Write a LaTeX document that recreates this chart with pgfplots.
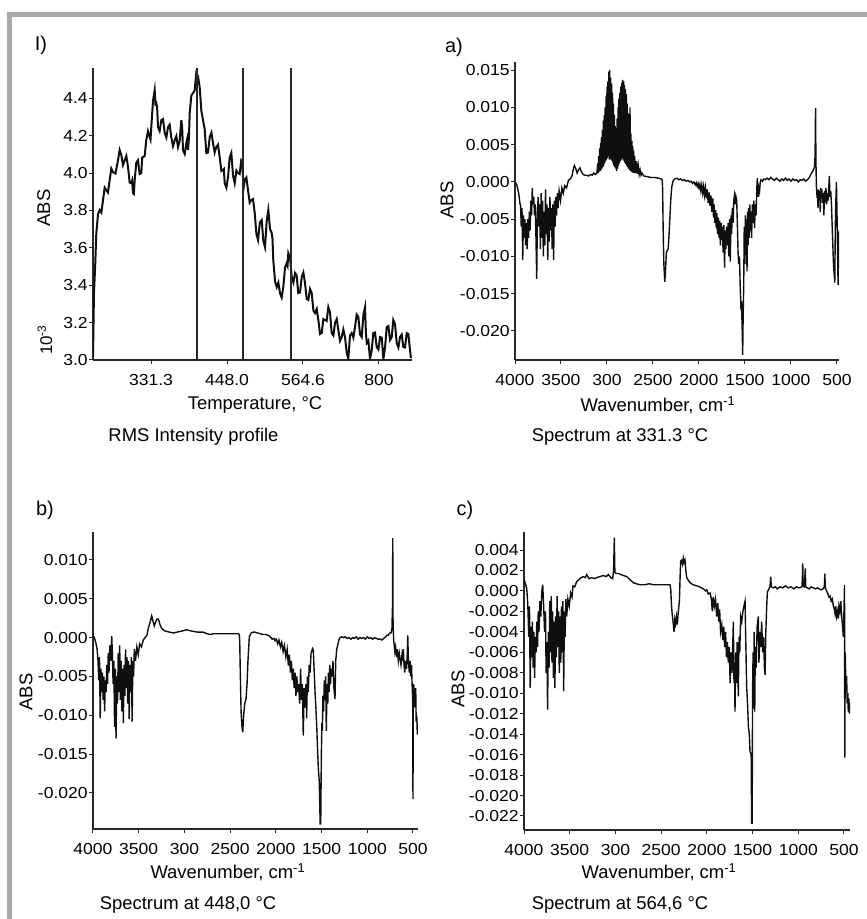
\documentclass[border=0pt]{standalone}
\usepackage{pgfplots}
\pgfplotsset{compat=1.18}
\usepackage{fontspec}
\setmainfont{Liberation Sans}
\definecolor{framegray}{RGB}{168,169,172}
\definecolor{axisc}{RGB}{40,40,40}
\definecolor{trace}{RGB}{15,15,15}
\newcommand\lab{\fontsize{18.5}{22}\selectfont}

\pgfplotsset{
  panel/.style={
    scale only axis,
    axis lines*=left,
    axis line style={axisc, line width=1.4bp},
    every tick/.style={axisc, line width=1bp},
    tick align=outside,
    major tick length=4bp,
    scaled x ticks=false, scaled y ticks=false,
    tick label style={font=\fontsize{16}{19}\selectfont, inner sep=1bp, xscale=1.1},
    xticklabel style={yshift=-9bp},
    label style={font=\lab},
    no markers,
  },
  spec/.style={panel, x dir=reverse, xmax=4000,
    xtick={4000,3500,3000,2500,2000,1500,1000,500},
    xticklabels={4000,3500,300,2500,2000,1500,1000,500},
    xlabel={Wavenumber, cm\textsuperscript{-1}}, ylabel={ABS}},
}

\begin{document}
\begin{tikzpicture}
\path[use as bounding box] (0,0) rectangle (867bp,919bp);
% grey frame
\fill[framegray] (7bp,902bp) rectangle (867bp,907bp);
\fill[framegray] (7bp,0bp) rectangle (12bp,907bp);

% I) RMS intensity profile
\begin{axis}[panel, at={(93bp,559bp)}, anchor=south west,
  width=319bp, height=292bp,
  xmin=242.2, xmax=732, ymin=3.0, ymax=4.562,
  xtick={331.3,448.0,564.6,681.2}, xticklabels={331.3,448.0,564.6,800},
  ytick={3.0,3.2,3.4,3.6,3.8,4.0,4.2,4.4},
  yticklabels={3.0,3.2,3.4,3.6,3.8,4.0,4.2,4.4},
  xlabel={Temperature, °C}, ylabel={ABS},
  xlabel style={at={(axis description cs:0.508,-0.154)}, anchor=center},
  ylabel style={at={(axis description cs:-0.154,0.521)}, anchor=center},
]
\addplot[trace, line width=2bp] coordinates {
(242.2,3.016) (243.7,3.358) (245.5,3.50) (247.3,3.679) (249.9,3.780) (252.5,3.802)
(255.0,3.789) (257.6,3.855) (260.1,3.922) (262.6,3.909) (265.2,3.896) (267.8,3.962)
(270.3,4.024) (272.9,4.005) (276.7,3.997) (280.6,4.069) (283.1,4.123) (285.7,4.096)
(288.3,4.043) (290.9,4.069) (293.4,4.091) (296.0,4.032) (298.5,3.949) (301.0,3.946)
(302.3,3.960) (303.6,3.893) (304.9,3.888) (306.2,3.962) (308.7,4.056) (311.3,4.069)
(313.8,3.995) (316.4,4.000) (317.7,4.083) (319.0,4.085) (321.5,4.091) (324.0,4.176)
(326.6,4.224) (329.3,4.192) (330.5,4.179) (331.7,4.246) (334.3,4.385) (336.9,4.444)
(338.1,4.369) (339.4,4.374) (340.7,4.350) (342.0,4.246) (344.5,4.225) (347.1,4.283)
(349.7,4.289) (352.3,4.214) (354.8,4.190) (357.4,4.246) (359.9,4.259) (362.4,4.192)
(365.0,4.144) (367.7,4.176) (370.2,4.198) (372.7,4.139) (375.2,4.171) (377.8,4.283)
(379.1,4.243) (380.4,4.123) (383.0,4.102) (385.5,4.160) (386.8,4.182) (388.1,4.123)
(389.4,4.182) (390.7,4.321) (393.2,4.415) (395.8,4.428) (398.3,4.442) (400.8,4.535)
(403.4,4.518) (406.0,4.460) (408.6,4.332) (411.1,4.283) (413.7,4.235) (416.2,4.107)
(418.8,4.110) (421.4,4.192) (424.0,4.216) (426.5,4.160) (429.0,4.110) (431.5,4.139)
(434.1,4.152) (436.7,4.085) (439.3,4.011) (441.8,4.016) (443.1,4.021) (444.4,3.946)
(447.0,3.922) (449.5,3.978) (452.1,4.083) (454.6,4.107) (457.2,3.987) (459.8,3.946)
(462.3,4.013) (464.8,4.000) (467.4,3.995) (469.9,4.069) (471.2,4.064) (472.5,3.978)
(473.8,3.930) (475.1,3.962) (477.7,3.976) (480.2,3.909) (482.8,3.842) (485.3,3.855)
(487.9,3.861) (490.5,3.786) (493.1,3.674) (495.6,3.642) (498.4,3.735) (501.2,3.748)
(503.8,3.636) (506.3,3.604) (508.9,3.743) (511.4,3.802) (514.0,3.701) (516.6,3.679)
(517.8,3.647) (519.0,3.534) (521.7,3.422) (524.3,3.390) (526.8,3.414) (529.3,3.358)
(531.9,3.334) (534.4,3.390) (537.0,3.494) (539.6,3.518) (540.9,3.505) (542.1,3.572)
(544.7,3.548) (547.3,3.444) (549.9,3.415) (552.4,3.465) (554.9,3.452) (557.4,3.358)
(560.1,3.361) (562.7,3.444) (565.2,3.468) (567.7,3.412) (570.3,3.327) (572.8,3.321)
(575.4,3.380) (578.0,3.358) (580.6,3.265) (583.1,3.251) (585.7,3.273) (588.2,3.214)
(590.8,3.139) (593.4,3.144) (595.9,3.219) (598.4,3.214) (601.0,3.209) (603.5,3.283)
(606.1,3.254) (608.7,3.144) (611.3,3.131) (613.8,3.198) (616.4,3.219) (618.9,3.160)
(621.5,3.102) (624.1,3.123) (626.6,3.163) (629.1,3.123) (631.7,3.040) (634.2,3.005)
(636.8,3.131) (639.4,3.144) (642.0,3.120) (644.5,3.176) (647.1,3.243) (649.6,3.230)
(652.2,3.137) (654.8,3.123) (657.4,3.243) (659.9,3.283) (661.2,3.147) (662.5,3.091)
(665.0,3.104) (667.5,3.005) (670.1,3.051) (672.6,3.144) (675.2,3.147) (677.8,3.069)
(680.4,3.056) (682.9,3.123) (685.5,3.120) (688.0,3.005) (690.6,3.067) (693.2,3.176)
(695.7,3.182) (698.2,3.107) (700.8,3.121) (703.3,3.214) (705.9,3.193) (708.5,3.091)
(711.1,3.067) (713.6,3.123) (716.2,3.136) (718.7,3.069) (721.3,3.067) (723.9,3.144)
(726.4,3.139) (728.9,3.053) (730.2,3.015) (731.5,3.016)
};
\addplot[axisc, line width=1.2bp] coordinates {(401.9,3.0) (401.9,4.562)};
\addplot[axisc, line width=1.2bp] coordinates {(472.5,3.0) (472.5,4.562)};
\addplot[axisc, line width=1.2bp] coordinates {(546.2,3.0) (546.2,4.562)};
\end{axis}
\node[rotate=90, font=\fontsize{17}{20}\selectfont] at (45bp,579bp) {10\textsuperscript{-3}};

% a) spectrum at 331.3 C
\begin{axis}[spec, at={(515bp,559bp)}, anchor=south west,
  width=324bp, height=298bp,
  xmin=478, ymin=-0.0239, ymax=0.0161,
  ytick={-0.020,-0.015,-0.010,-0.005,0,0.005,0.010,0.015},
  yticklabels={-0.020,-0.015,-0.010,-0.005,0.000,0.005,0.010,0.015},
  xlabel style={at={(axis description cs:0.441,-0.151)}, anchor=center},
  ylabel style={at={(axis description cs:-0.210,0.537)}, anchor=center},
]
\addplot[trace, line width=1.4bp] coordinates {
(4000,0.0000) (3980,-0.0004) (3960,-0.0015) (3945,-0.0030)
(3940,-0.0030) (3932,-0.0060) (3924,-0.0035) (3916,-0.0105) (3908,-0.0045) (3900,-0.0075)
(3892,-0.0050) (3884,-0.0085) (3876,-0.0055) (3868,-0.0090) (3860,-0.0050) (3852,-0.0075)
(3844,-0.0040) (3836,-0.0065) (3828,-0.0025) (3820,-0.0045) (3812,-0.0008) (3806,-0.0030)
(3796,-0.0020) (3788,-0.0045) (3780,-0.0030) (3772,-0.0075) (3764,-0.0130) (3756,-0.0040)
(3748,-0.0020) (3740,-0.0060) (3732,-0.0030) (3724,-0.0090) (3716,-0.0015) (3708,-0.0075)
(3700,-0.0025) (3692,-0.0100) (3684,-0.0040) (3676,-0.0085) (3668,-0.0010) (3660,-0.0070)
(3652,-0.0030) (3644,-0.0105) (3636,-0.0035) (3628,-0.0080) (3620,-0.0020) (3612,-0.0065)
(3604,-0.0035) (3596,-0.0090) (3588,-0.0030) (3580,-0.0105) (3572,-0.0025) (3564,-0.0060)
(3556,-0.0020) (3548,-0.0045) (3540,-0.0015) (3532,-0.0035) (3520,-0.0012) (3505,-0.0025)
(3490,-0.0008) (3475,-0.0015) (3460,-0.0005) (3440,-0.0008) (3420,0.0002) (3400,0.0004)
(3380,0.0008) (3370,0.0015) (3355,0.0022) (3340,0.0018) (3325,0.0012) (3310,0.0016)
(3295,0.0019) (3280,0.0014) (3260,0.0010) (3240,0.0009) (3220,0.0009) (3200,0.0008)
(3180,0.0010) (3160,0.0009) (3145,0.0012) (3130,0.0010) (3110,0.0012) (3100,0.0025)
(3095,0.0012) (3090,0.0035) (3085,0.0014) (3080,0.0045) (3075,0.0015) (3070,0.0052)
(3065,0.0016) (3060,0.0060) (3055,0.0018) (3050,0.0070) (3045,0.0020) (3040,0.0082)
(3035,0.0022) (3030,0.0090) (3025,0.0025) (3020,0.0100) (3015,0.0028) (3010,0.0115)
(3005,0.0030) (3000,0.0128) (2995,0.0032) (2990,0.0135) (2985,0.0035) (2980,0.0148)
(2975,0.0030) (2970,0.0150) (2965,0.0035) (2960,0.0140) (2955,0.0030) (2950,0.0132)
(2945,0.0028) (2940,0.0120) (2935,0.0025) (2930,0.0105) (2925,0.0022) (2920,0.0090)
(2915,0.0020) (2910,0.0075) (2905,0.0018) (2900,0.0060) (2895,0.0015) (2890,0.0085)
(2885,0.0018) (2880,0.0100) (2875,0.0022) (2870,0.0112) (2865,0.0025) (2860,0.0120)
(2855,0.0028) (2850,0.0128) (2845,0.0030) (2840,0.0133) (2835,0.0032) (2830,0.0137)
(2825,0.0030) (2820,0.0135) (2815,0.0028) (2810,0.0130) (2805,0.0026) (2800,0.0125)
(2795,0.0024) (2790,0.0118) (2785,0.0022) (2780,0.0105) (2775,0.0020) (2770,0.0092)
(2765,0.0018) (2760,0.0080) (2755,0.0016) (2750,0.0100) (2745,0.0015) (2740,0.0065)
(2735,0.0014) (2730,0.0055) (2725,0.0013) (2720,0.0048) (2715,0.0012) (2710,0.0042)
(2705,0.0012) (2700,0.0035) (2690,0.0012) (2680,0.0028) (2670,0.0011) (2660,0.0022)
(2650,0.0010) (2640,0.0016) (2630,0.0009) (2620,0.0012) (2600,0.0008) (2560,0.0007)
(2520,0.0006) (2480,0.0006) (2440,0.0005) (2410,0.0004) (2400,0.0003) (2395,-0.0010)
(2390,-0.0060) (2382,-0.0110) (2372,-0.0134) (2364,-0.0120) (2355,-0.0095) (2345,-0.0092)
(2335,-0.0090) (2325,-0.0070) (2315,-0.0045) (2305,-0.0020) (2295,-0.0006) (2280,0.0002)
(2262,0.0004) (2240,0.0005) (2220,0.0003) (2200,0.0004) (2180,0.0002) (2160,0.0003)
(2140,0.0001) (2120,0.0002) (2100,0.0000) (2085,0.0001) (2070,-0.0002) (2055,0.0000)
(2040,-0.0004) (2030,-0.0001) (2020,-0.0006) (2010,-0.0002) (2000,-0.0008) (1990,-0.0003)
(1980,-0.0012) (1970,-0.0004) (1960,-0.0015) (1950,-0.0006) (1940,-0.0018) (1930,-0.0008)
(1920,-0.0022) (1910,-0.0010) (1900,-0.0028) (1890,-0.0014) (1880,-0.0032) (1870,-0.0018)
(1860,-0.0040) (1850,-0.0022) (1842,-0.0048) (1835,-0.0030) (1828,-0.0055) (1820,-0.0038)
(1812,-0.0062) (1805,-0.0042) (1798,-0.0070) (1790,-0.0048) (1782,-0.0075) (1775,-0.0052)
(1768,-0.0085) (1760,-0.0055) (1752,-0.0078) (1745,-0.0060) (1738,-0.0095) (1730,-0.0058)
(1722,-0.0115) (1715,-0.0065) (1708,-0.0090) (1700,-0.0060) (1692,-0.0085) (1684,-0.0055)
(1676,-0.0100) (1668,-0.0050) (1660,-0.0107) (1652,-0.0045) (1645,-0.0070) (1638,-0.0035)
(1630,-0.0055) (1622,-0.0025) (1614,-0.0018) (1606,-0.0030) (1598,-0.0020) (1590,-0.0025)
(1582,-0.0060) (1575,-0.0095) (1568,-0.0110) (1560,-0.0100) (1552,-0.0140) (1545,-0.0165)
(1538,-0.0160) (1530,-0.0200) (1525,-0.0232) (1520,-0.0180) (1514,-0.0140) (1508,-0.0060)
(1502,-0.0110) (1496,-0.0045) (1490,-0.0098) (1484,-0.0050) (1478,-0.0120) (1472,-0.0040)
(1466,-0.0085) (1460,-0.0035) (1454,-0.0075) (1448,-0.0030) (1442,-0.0065) (1436,-0.0040)
(1428,-0.0075) (1420,-0.0030) (1412,-0.0055) (1404,-0.0025) (1396,-0.0062) (1388,-0.0030)
(1380,-0.0045) (1372,-0.0010) (1366,0.0005) (1358,-0.0020) (1350,-0.0008) (1342,-0.0013)
(1334,0.0000) (1325,0.0003) (1310,0.0001) (1295,0.0004) (1280,0.0003) (1260,0.0005)
(1240,0.0003) (1220,0.0006) (1200,0.0004) (1180,0.0002) (1160,0.0005) (1140,0.0003)
(1120,0.0001) (1100,0.0004) (1080,0.0002) (1060,0.0005) (1040,0.0002) (1020,0.0004)
(1000,0.0001) (980,0.0004) (960,0.0002) (940,0.0003) (920,0.0000) (900,0.0003)
(880,0.0002) (860,0.0004) (840,0.0001) (820,0.0003) (800,0.0006) (785,0.0010)
(775,0.0012) (760,0.0015) (745,0.0020) (738,0.0035) (733,0.0099) (729,0.0030)
(724,-0.0005) (718,-0.0017) (712,-0.0015) (706,-0.0035) (700,-0.0010) (694,-0.0025)
(688,-0.0012) (682,-0.0040) (676,-0.0008) (670,-0.0020) (664,-0.0010) (658,-0.0028)
(650,-0.0015) (642,-0.0045) (636,-0.0012) (628,-0.0020) (620,-0.0008) (612,-0.0030)
(604,-0.0015) (596,-0.0025) (588,-0.0005) (583,0.0008) (576,-0.0020) (568,-0.0012)
(560,-0.0030) (552,-0.0060) (545,-0.0085) (538,-0.0110) (530,-0.0125) (524,-0.0135)
(518,-0.0060) (512,-0.0025) (506,0.0000) (500,-0.0040) (494,-0.0090) (488,-0.0138)
(482,-0.0080) (478,-0.0065)
};
\end{axis}

% b) spectrum at 448,0 C
\begin{axis}[spec, at={(93bp,90bp)}, anchor=south west,
  width=325bp, height=297bp,
  xmin=445, ymin=-0.02464, ymax=0.0136,
  ytick={-0.020,-0.015,-0.010,-0.005,0,0.005,0.010},
  yticklabels={-0.020,-0.015,-0.010,-0.005,0.000,0.005,0.010},
  xlabel style={at={(axis description cs:0.415,-0.145)}, anchor=center},
  ylabel style={at={(axis description cs:-0.206,0.461)}, anchor=center},
]
\addplot[trace, line width=1.4bp] coordinates {
(4000,0.0003) (3985,0.0000) (3970,-0.0006) (3955,-0.0015)
(3945,-0.0030) (3937,-0.0055) (3929,-0.0025) (3921,-0.0104) (3913,-0.0040) (3905,-0.0070)
(3897,-0.0045) (3889,-0.0080) (3881,-0.0050) (3873,-0.0095) (3865,-0.0055) (3857,-0.0070)
(3849,-0.0035) (3841,-0.0060) (3833,-0.0020) (3825,-0.0045) (3815,-0.0010) (3805,-0.0030)
(3795,0.0002) (3788,-0.0020) (3780,-0.0060) (3772,-0.0030) (3764,-0.0115) (3756,-0.0040)
(3748,-0.0130) (3740,-0.0050) (3732,-0.0085) (3724,-0.0020) (3716,-0.0070) (3708,-0.0010)
(3700,-0.0080) (3692,-0.0030) (3684,-0.0095) (3676,-0.0040) (3668,-0.0110) (3660,-0.0035)
(3652,-0.0075) (3644,-0.0015) (3636,-0.0065) (3628,-0.0025) (3620,-0.0085) (3612,-0.0030)
(3604,-0.0105) (3596,-0.0035) (3588,-0.0070) (3580,-0.0025) (3572,-0.0108) (3564,-0.0030)
(3556,-0.0050) (3548,-0.0015) (3535,-0.0030) (3520,-0.0012) (3505,-0.0022) (3490,-0.0008)
(3470,-0.0012) (3450,-0.0003) (3430,0.0000) (3410,0.0003) (3395,0.0012) (3375,0.0020)
(3358,0.0028) (3345,0.0022) (3330,0.0015) (3322,0.0018) (3300,0.0024) (3285,0.0024)
(3265,0.0016) (3249,0.0012) (3220,0.0009) (3194,0.0008) (3160,0.0007) (3121,0.0006)
(3085,0.0007) (3048,0.0008) (3010,0.0009) (2975,0.0010) (2940,0.0009) (2903,0.0008)
(2850,0.0007) (2794,0.0007) (2750,0.0005) (2720,0.0004) (2680,0.0005) (2600,0.0005)
(2501,0.0005) (2410,0.0005) (2400,0.0004) (2395,-0.0005) (2388,-0.0050) (2380,-0.0096)
(2370,-0.0115) (2362,-0.0122) (2352,-0.0100) (2340,-0.0085) (2326,-0.0079) (2315,-0.0060)
(2305,-0.0030) (2290,0.0001) (2270,0.0006) (2246,0.0007) (2228,0.0007) (2200,0.0006)
(2170,0.0005) (2140,0.0004) (2110,0.0004) (2082,0.0003) (2060,0.0001) (2040,-0.0002)
(2020,-0.0001) (2009,-0.0004) (1995,-0.0002) (1980,-0.0008) (1966,-0.0003) (1950,-0.0012)
(1936,-0.0006) (1920,-0.0018) (1906,-0.0010) (1890,-0.0025) (1876,-0.0015) (1863,-0.0036)
(1852,-0.0022) (1840,-0.0045) (1830,-0.0030) (1820,-0.0055) (1809,-0.0040) (1800,-0.0065)
(1790,-0.0045) (1780,-0.0075) (1770,-0.0050) (1760,-0.0070) (1750,-0.0060) (1740,-0.0085)
(1729,-0.0040) (1720,-0.0080) (1710,-0.0060) (1700,-0.0126) (1690,-0.0065) (1680,-0.0090)
(1670,-0.0060) (1663,-0.0104) (1655,-0.0050) (1645,-0.0070) (1635,-0.0035) (1625,-0.0045)
(1615,-0.0020) (1609,-0.0018) (1598,-0.0014) (1590,-0.0016) (1580,-0.0045) (1571,-0.0070)
(1562,-0.0090) (1553,-0.0113) (1545,-0.0140) (1535,-0.0169) (1525,-0.0185) (1515,-0.0240)
(1509,-0.0240) (1502,-0.0150) (1496,-0.0110) (1491,-0.0120) (1485,-0.0075) (1478,-0.0095)
(1470,-0.0055) (1462,-0.0080) (1455,-0.0050) (1448,-0.0120) (1440,-0.0060) (1432,-0.0085)
(1425,-0.0045) (1418,-0.0070) (1410,-0.0035) (1402,-0.0060) (1395,-0.0040) (1385,-0.0050)
(1375,-0.0030) (1365,-0.0065) (1353,-0.0079) (1345,-0.0030) (1334,-0.0015) (1320,-0.0008)
(1310,-0.0003) (1298,0.0000) (1280,0.0001) (1260,0.0000) (1243,0.0001) (1220,-0.0001)
(1200,0.0000) (1180,-0.0002) (1160,0.0000) (1140,-0.0001) (1120,0.0001) (1100,-0.0002)
(1080,0.0000) (1060,-0.0001) (1040,0.0000) (1020,-0.0002) (1000,0.0001) (980,-0.0001)
(960,0.0000) (940,-0.0002) (920,0.0000) (900,-0.0001) (880,-0.0002) (860,-0.0002)
(840,-0.0003) (820,-0.0001) (800,0.0001) (785,0.0003) (770,0.0003) (755,0.0006)
(740,0.0006) (730,0.0012) (724,0.0040) (721,0.0128) (719,0.0030) (715,0.0008)
(710,-0.0005) (705,-0.0010) (698,-0.0018) (690,-0.0012) (679,-0.0025) (672,-0.0015)
(660,-0.0030) (650,-0.0020) (640,-0.0028) (631,-0.0035) (620,-0.0022) (612,-0.0030)
(605,-0.0015) (598,-0.0035) (590,-0.0045) (580,-0.0030) (570,-0.0040) (562,-0.0020)
(557,0.0003) (550,-0.0030) (540,-0.0045) (532,-0.0030) (525,-0.0050) (516,-0.0035)
(508,-0.0065) (503,-0.0080) (500,-0.0208) (497,-0.0090) (492,-0.0060) (485,-0.0075)
(478,-0.0090) (470,-0.0065) (465,-0.0108) (459,-0.0100) (452,-0.0125) (446,-0.0110)
};
\end{axis}

% c) spectrum at 564,6 C
\begin{axis}[spec, at={(524bp,89bp)}, anchor=south west,
  width=326bp, height=298bp,
  xmin=434, ymin=-0.02337, ymax=0.00576,
  ytick={-0.022,-0.020,-0.018,-0.016,-0.014,-0.012,-0.010,-0.008,-0.006,-0.004,-0.002,0,0.002,0.004},
  yticklabels={-0.022,-0.020,-0.018,-0.016,-0.014,-0.012,-0.010,-0.008,-0.006,-0.004,-0.002,0.000,0.002,0.004},
  xlabel style={at={(axis description cs:0.414,-0.141)}, anchor=center},
  ylabel style={at={(axis description cs:-0.202,0.473)}, anchor=center},
]
\addplot[trace, line width=1.4bp] coordinates {
(4000,0.0011) (3985,0.0007) (3971,0.0003) (3962,-0.0008)
(3956,-0.0020) (3948,-0.0045) (3940,-0.0015) (3932,-0.0095) (3924,-0.0035) (3916,-0.0065)
(3908,-0.0030) (3900,-0.0075) (3892,-0.0040) (3884,-0.0085) (3876,-0.0045) (3868,-0.0060)
(3860,-0.0030) (3852,-0.0055) (3844,-0.0020) (3836,-0.0040) (3826,-0.0010) (3816,-0.0025)
(3805,0.0000) (3795,0.0006) (3785,-0.0015) (3775,-0.0040) (3765,-0.0020) (3758,-0.0080)
(3750,-0.0050) (3742,-0.0116) (3734,-0.0040) (3726,-0.0075) (3718,-0.0010) (3710,-0.0060)
(3702,-0.0005) (3694,-0.0070) (3686,-0.0020) (3678,-0.0085) (3670,-0.0030) (3662,-0.0095)
(3654,-0.0025) (3646,-0.0065) (3638,-0.0005) (3630,-0.0055) (3622,-0.0020) (3614,-0.0080)
(3606,-0.0025) (3598,-0.0070) (3590,-0.0015) (3582,-0.0060) (3574,-0.0010) (3566,-0.0098)
(3558,-0.0020) (3550,-0.0045) (3542,-0.0008) (3533,-0.0025) (3520,-0.0008) (3505,-0.0015)
(3490,-0.0002) (3475,-0.0006) (3464,0.0005) (3445,0.0004) (3424,0.0009) (3400,0.0011)
(3375,0.0013) (3351,0.0014) (3330,0.0013) (3314,0.0016) (3290,0.0012) (3260,0.0013)
(3230,0.0012) (3205,0.0013) (3170,0.0014) (3132,0.0015) (3100,0.0014) (3077,0.0016)
(3050,0.0013) (3030,0.0012) (3020,0.0020) (3012,0.0052) (3006,0.0018) (2990,0.0017)
(2968,0.0017) (2940,0.0016) (2910,0.0015) (2877,0.0014) (2840,0.0011) (2804,0.0008)
(2770,0.0007) (2731,0.0006) (2680,0.0006) (2630,0.0007) (2586,0.0006) (2540,0.0006)
(2490,0.0006) (2440,0.0006) (2403,0.0006) (2395,0.0002) (2388,-0.0012) (2380,-0.0022)
(2372,-0.0028) (2364,-0.0035) (2359,-0.0040) (2350,-0.0028) (2342,-0.0032) (2333,-0.0025)
(2323,-0.0033) (2312,-0.0020) (2300,-0.0010) (2292,0.0015) (2286,0.0029) (2275,0.0030)
(2265,0.0026) (2257,0.0032) (2248,0.0028) (2239,0.0030) (2230,0.0020) (2220,0.0013)
(2200,0.0010) (2184,0.0008) (2150,0.0006) (2111,0.0005) (2080,0.0004) (2038,0.0002)
(2015,0.0000) (2000,0.0001) (1985,-0.0003) (1965,-0.0002) (1950,-0.0008) (1940,-0.0020)
(1930,-0.0006) (1918,-0.0015) (1905,-0.0008) (1892,-0.0025) (1880,-0.0012) (1870,-0.0030)
(1860,-0.0018) (1850,-0.0040) (1837,-0.0033) (1826,-0.0048) (1815,-0.0035) (1805,-0.0055)
(1795,-0.0040) (1785,-0.0065) (1775,-0.0050) (1765,-0.0070) (1755,-0.0055) (1745,-0.0090)
(1735,-0.0060) (1725,-0.0080) (1717,-0.0055) (1710,-0.0030) (1703,-0.0090) (1697,-0.0070)
(1692,-0.0118) (1684,-0.0060) (1676,-0.0090) (1668,-0.0050) (1660,-0.0075) (1656,-0.0103)
(1648,-0.0045) (1640,-0.0060) (1630,-0.0025) (1618,-0.0030) (1607,-0.0021) (1595,-0.0015)
(1582,-0.0010) (1574,-0.0050) (1564,-0.0094) (1555,-0.0110) (1545,-0.0133) (1535,-0.0140)
(1528,-0.0157) (1515,-0.0160) (1510,-0.0227) (1504,-0.0227) (1500,-0.0100) (1494,-0.0060)
(1488,-0.0115) (1482,-0.0040) (1476,-0.0118) (1470,-0.0055) (1460,-0.0075) (1450,-0.0035)
(1437,-0.0025) (1430,-0.0070) (1420,-0.0040) (1410,-0.0055) (1400,-0.0030) (1390,-0.0060)
(1380,-0.0045) (1370,-0.0075) (1363,-0.0082) (1355,-0.0040) (1345,-0.0015) (1338,-0.0001)
(1320,0.0002) (1308,0.0005) (1301,0.0014) (1295,0.0004) (1273,0.0003) (1250,0.0004)
(1230,0.0002) (1200,0.0004) (1170,0.0003) (1140,0.0005) (1110,0.0003) (1080,0.0004)
(1050,0.0002) (1020,0.0004) (990,0.0003) (960,0.0004) (955,0.0012) (951,0.0027)
(946,0.0005) (935,0.0004) (927,0.0015) (923,0.0022) (918,0.0004) (900,0.0003)
(880,0.0002) (860,0.0004) (835,0.0003) (810,0.0002) (790,0.0003) (770,0.0002)
(750,0.0001) (730,0.0002) (715,0.0004) (709,0.0017) (704,0.0003) (690,0.0000)
(675,-0.0003) (665,-0.0006) (652,-0.0005) (640,-0.0010) (628,-0.0008) (615,-0.0015)
(605,-0.0018) (598,-0.0022) (590,-0.0015) (580,-0.0025) (570,-0.0020) (562,-0.0027)
(555,-0.0015) (545,-0.0020) (535,-0.0010) (525,-0.0025) (515,-0.0035) (507,-0.0045)
(500,-0.0020) (494,0.0006) (491,-0.0163) (486,-0.0060) (480,-0.0090) (471,-0.0083)
(465,-0.0110) (458,-0.0100) (453,-0.0118) (446,-0.0105) (440,-0.0120) (436,-0.0110)
};
\end{axis}

% panel letters and captions
\node[font=\fontsize{20}{24}\selectfont] at (41bp,874bp) {I)};
\node[font=\fontsize{20}{24}\selectfont] at (454bp,872bp) {a)};
\node[font=\fontsize{20}{24}\selectfont] at (45bp,409bp) {b)};
\node[font=\fontsize{20}{24}\selectfont] at (465bp,409bp) {c)};
\node[font=\lab] at (193.5bp,482bp) {RMS Intensity profile};
\node[font=\lab] at (620bp,482bp) {Spectrum at 331.3 °C};
\node[font=\lab] at (188bp,14bp) {Spectrum at 448,0 °C};
\node[font=\lab] at (620bp,14bp) {Spectrum at 564,6 °C};
\end{tikzpicture}
\end{document}
